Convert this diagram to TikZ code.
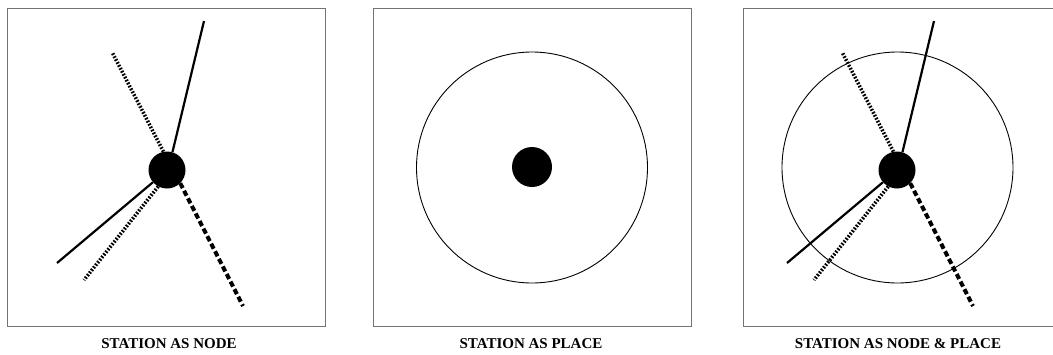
\documentclass[tikz,border=0pt]{standalone}
\usepackage{fontspec}
\setmainfont{Liberation Serif}
\begin{document}
\begin{tikzpicture}[x=1pt,y=-1pt,
  frame/.style={draw=black!55,line width=1pt},
  station/.style={circle,fill=black,inner sep=0pt,minimum size=37pt},
  place/.style={circle,draw=black,line width=0.9pt,inner sep=0pt,minimum size=231pt},
  solidline/.style={line width=2.2pt},
  dottedline/.style={line width=3.6pt,dash pattern=on 1.7pt off 1.6pt},
  dashedline/.style={line width=4pt,dash pattern=on 5.5pt off 3pt},
  caption/.style={font=\fontsize{15}{17}\selectfont\bfseries,anchor=base}]
\useasboundingbox (0,0) rectangle (1053,354);
\fill[white] (0,0) rectangle (1053,354);
% frames
\draw[frame] (7.5,8.5) rectangle (325,326);
\draw[frame] (373,8.5) rectangle (691,326);
\draw[frame] (743,8.5) rectangle (1060,326);
% panel 1
\node[station] (n1) at (167,170) {};
\coordinate (a1) at (204,21);
\coordinate (b1) at (112,52);
\coordinate (c1) at (57,263);
\coordinate (d1) at (84,280);
\coordinate (e1) at (243,306);
\draw[solidline] (n1.73) -- (a1);
\draw[dottedline] (n1.101) -- (b1);
\draw[solidline] (n1.221) -- (c1);
\draw[dottedline] (n1.242) -- (d1);
\draw[dashedline] (n1.315) -- (e1);
\node[caption] (t1) at (169,348) {STATION AS NODE};
% panel 2
\node[place] (p2) at (532,167.5) {};
\node[station,minimum size=40pt] (n2) at (532,167) {};
\node[caption] (t2) at (531,348) {STATION AS PLACE};
% panel 3
\node[place] (p3) at (897.5,167.5) {};
\node[station] (n3) at (897,170) {};
\coordinate (a3) at (934,21);
\coordinate (b3) at (842,52);
\coordinate (c3) at (787,263);
\coordinate (d3) at (814,280);
\coordinate (e3) at (973,306);
\draw[solidline] (n3.73) -- (a3);
\draw[dottedline] (n3.101) -- (b3);
\draw[solidline] (n3.221) -- (c3);
\draw[dottedline] (n3.242) -- (d3);
\draw[dashedline] (n3.315) -- (e3);
\node[caption] (t3) at (898,348) {STATION AS NODE \& PLACE};
\end{tikzpicture}
\end{document}
